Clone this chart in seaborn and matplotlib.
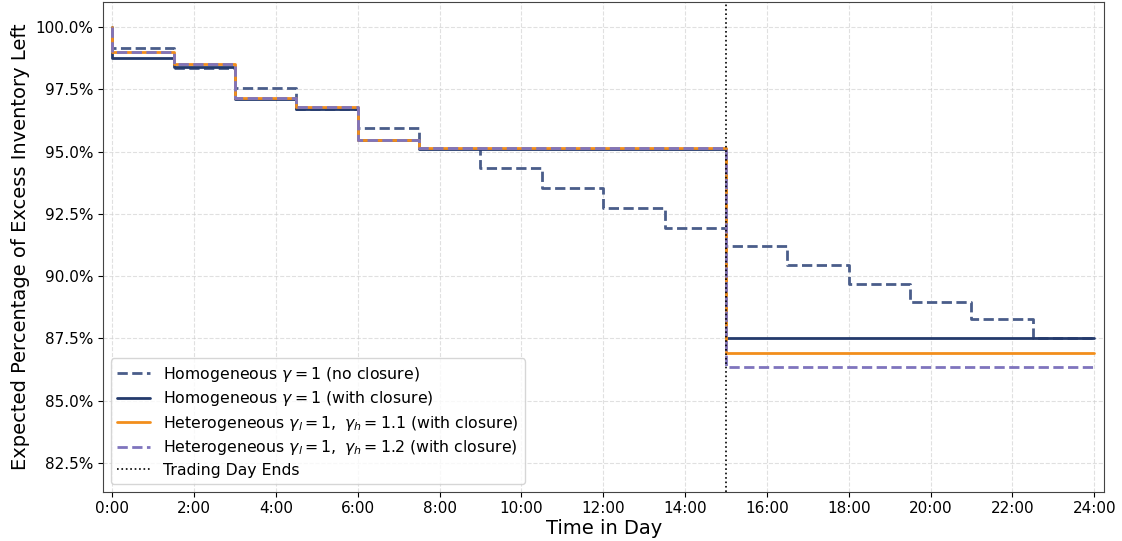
import pandas as pd
import matplotlib.pyplot as plt
import seaborn as sns
from matplotlib.ticker import PercentFormatter, FixedLocator

sns.set_style("ticks")
plt.rcParams['font.family'] = ['DejaVu Sans']
plt.rcParams.update({'text.color': 'black', 'axes.labelcolor': 'black',
                     'xtick.color': 'black', 'ytick.color': 'black'})

# Inventory left (%), piecewise constant between rebalancing times
hours_full = [0, 1.5, 3, 4.5, 6, 7.5, 9, 10.5, 12, 13.5, 15, 16.5, 18, 19.5, 21, 22.5]
no_closure = [99.17, 98.37, 97.54, 96.70, 95.93, 95.15, 94.35, 93.55, 92.75, 91.95,
              91.20, 90.45, 89.70, 88.98, 88.26, 87.52]

hours_closure = [0, 1.5, 3, 4.5, 6, 7.5, 15]
hom_closure = [98.77, 98.38, 97.10, 96.70, 95.45, 95.10, 87.52]
het_11 = [99.00, 98.50, 97.17, 96.80, 95.48, 95.16, 86.92]
het_12 = [99.00, 98.50, 97.17, 96.80, 95.48, 95.16, 86.34]

start_value = 100.0
day_end = 24
trading_end = 15
tick_hours = list(range(0, 25, 2))
tick_labels = [f"{h}:00" for h in tick_hours]


def step_frame(hours, values):
    # prepend the starting 100% and extend the last level to the end of the day
    t = [0] + list(hours) + [day_end]
    v = [start_value] + list(values) + [values[-1]]
    return pd.DataFrame({'hour': t, 'inv': v})


fig, ax = plt.subplots(figsize=(11.22, 5.41), dpi=100)

series = [
    (no_closure, hours_full, 'Homogeneous $\\gamma=1$ (no closure)', '#4a5d8a', '--'),
    (hom_closure, hours_closure, 'Homogeneous $\\gamma=1$ (with closure)', '#243a6c', '-'),
    (het_11, hours_closure, 'Heterogeneous $\\gamma_l=1,\\ \\gamma_h=1.1$ (with closure)', '#f28e1c', '-'),
    (het_12, hours_closure, 'Heterogeneous $\\gamma_l=1,\\ \\gamma_h=1.2$ (with closure)', '#7f74bd', '--'),
]
for vals, hrs, label, color, ls in series:
    df = step_frame(hrs, vals)
    sns.lineplot(data=df, x='hour', y='inv', ax=ax, estimator=None, sort=False,
                 drawstyle='steps-post', color=color, linestyle=ls, linewidth=2,
                 label=label)

ax.axvline(trading_end, color='black', linestyle=':', linewidth=1.2,
           label='Trading Day Ends', zorder=5)

ax.set_xlim(-0.22, 24.24)
ax.set_ylim(min(het_12) - 5, 101)
ax.xaxis.set_major_locator(FixedLocator(tick_hours))
ax.set_xticklabels(tick_labels)
ax.yaxis.set_major_formatter(PercentFormatter(decimals=1))
ax.tick_params(labelsize=11)
ax.grid(True, linestyle='--', color='#cccccc', alpha=0.6, linewidth=0.8)

ax.set_xlabel('Time in Day', fontsize=14, labelpad=2)
ax.set_ylabel('Expected Percentage of Excess Inventory Left', fontsize=14)

for s in ax.spines.values():
    s.set_visible(True)
    s.set_color('#444444')

ax.legend(loc='lower left', fontsize=11.3, framealpha=0.8, labelspacing=0.35,
          handlelength=2.1)

plt.subplots_adjust(left=0.092, right=0.984, top=0.996, bottom=0.091)
plt.savefig('out.png', dpi=100)
